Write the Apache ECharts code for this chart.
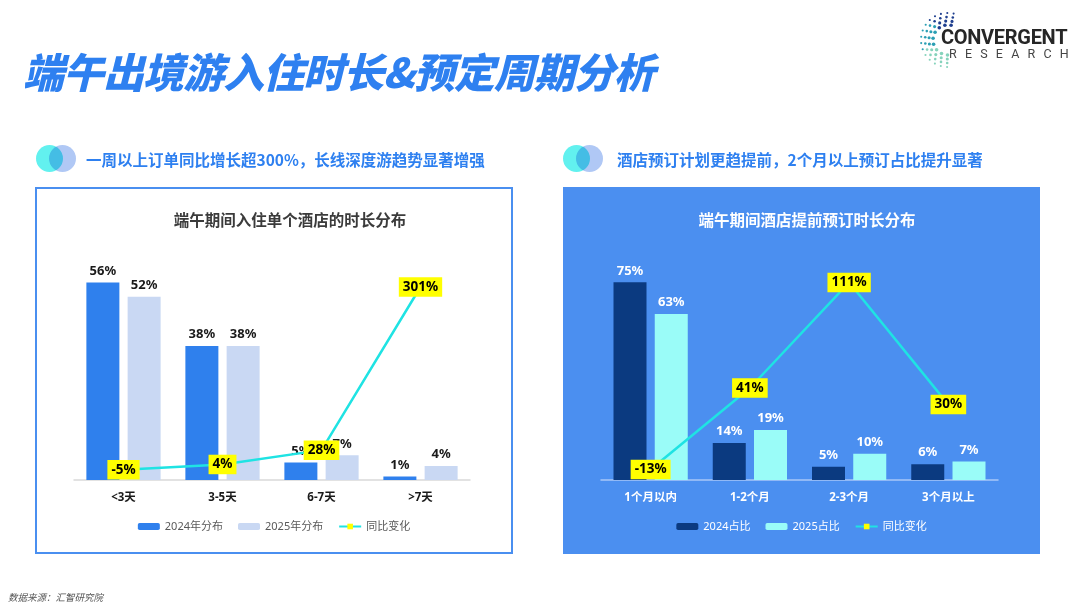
<!DOCTYPE html>
<html>
<head>
<meta charset="utf-8">
<script src="https://cdn.jsdelivr.net/npm/echarts@6/dist/echarts.min.js"></script>
<style>
  html, body { margin: 0; padding: 0; }
  body { width: 1080px; height: 608px; overflow: hidden; background: #fff; position: relative;
         font-family: 'Noto Sans', 'Noto Sans CJK SC', sans-serif; }
  .abs { position: absolute; }
  #pageTitle { left: 23px; top: 45px; font-size: 41px; line-height: 50px; font-weight: 900; font-style: italic;
               color: #2e80f0; letter-spacing: -1px; font-family: 'Noto Sans CJK SC', sans-serif; white-space: nowrap; }
  .sub { top: 148px; font-size: 15.5px; line-height: 22px; font-weight: bold; color: #2e80f0;
         font-family: 'Noto Sans CJK SC', sans-serif; white-space: nowrap; }
  .ico { width: 27px; height: 27px; border-radius: 50%; top: 145px; }
  .ico.a { background: #62f1ef; }
  .ico.b { background: #b0c8f5; mix-blend-mode: multiply; }
  #panelL { left: 35px; top: 187px; width: 478px; height: 367px; border: 2px solid #4a8ff0; box-sizing: border-box; }
  #panelR { left: 563px; top: 187px; width: 477px; height: 367px; background: #4b8ff0; }
  #chartL { left: 35px; top: 187px; width: 478px; height: 367px; }
  #chartR { left: 563px; top: 187px; width: 477px; height: 367px; }
  #note { left: 8px; top: 591px; font-size: 9.5px; line-height: 12px; font-style: italic; color: #555;
          font-family: 'Noto Sans CJK SC', sans-serif; }
  #logo1 { left: 941px; top: 27px; font-family: Roboto, sans-serif; font-weight: bold; font-size: 20px;
           line-height: 20px; color: #262626; letter-spacing: -0.3px; }
  #logo2 { left: 949px; top: 47px; font-family: Roboto, sans-serif; font-size: 12.5px; line-height: 14px;
           color: #444; letter-spacing: 8.2px; }
</style>
</head>
<body>
<div id="pageTitle" class="abs">端午出境游入住时长&amp;预定周期分析</div>

<svg id="dots" class="abs" style="left:910px;top:6px" width="50" height="64"></svg>
<div id="logo1" class="abs">CONVERGENT</div>
<div id="logo2" class="abs">RESEARCH</div>

<div class="abs ico a" style="left:36px"></div>
<div class="abs ico b" style="left:49px"></div>
<div class="abs sub" style="left:86px">一周以上订单同比增长超300%，长线深度游趋势显著增强</div>

<div class="abs ico a" style="left:563px"></div>
<div class="abs ico b" style="left:576px"></div>
<div class="abs sub" style="left:617px">酒店预订计划更趋提前，2个月以上预订占比提升显著</div>

<div id="panelL" class="abs"></div>
<div id="panelR" class="abs"></div>
<div id="chartL" class="abs"></div>
<div id="chartR" class="abs"></div>

<div id="note" class="abs">数据来源：汇智研究院</div>

<script>
// 入住单个酒店的时长分布
var durCats = ['<3天', '3-5天', '6-7天', '>7天'];
var dur2024 = [56, 38, 5, 1];
var dur2025 = [52, 38, 7, 4];
var durYoy = [-5, 4, 28, 301];

// 酒店提前预订时长分布
var leadCats = ['1个月以内', '1-2个月', '2-3个月', '3个月以上'];
var lead2024 = [75, 14, 5, 6];
var lead2025 = [63, 19, 10, 7];
var leadYoy = [-13, 41, 111, 30];

// logo 点阵 (装饰)
(function () {
    var svg = document.getElementById('dots');
    var cx = 38, cy = 34;
    var rings = [15, 19, 23, 27];
    var html = '';
    rings.forEach(function (r, ri) {
        var n = 9 + ri * 2;
        for (var i = 0; i < n; i++) {
            var deg = 78 + (190 * i) / (n - 1);
            var a = deg * Math.PI / 180;
            var x = cx + r * Math.cos(a), y = cy - r * Math.sin(a);
            var t = i / (n - 1);
            var col = t < 0.3 ? '#1f3f8f' : (t < 0.65 ? '#2b9fb4' : '#86d3bc');
            var s = 1.8 - ri * 0.25;
            html += '<circle cx="' + x.toFixed(1) + '" cy="' + y.toFixed(1) + '" r="' + s.toFixed(2) + '" fill="' + col + '"/>';
        }
    });
    svg.innerHTML = html;
})();

var FONT = "'Noto Sans', 'Noto Sans CJK SC', sans-serif";

function buildOption(c) {
    return {
        animation: false,
        textStyle: { fontFamily: FONT },
        title: {
            text: c.title,
            left: c.titleX,
            top: 22,
            textAlign: 'center',
            textStyle: { fontSize: 15.5, fontWeight: 'bold', color: c.titleColor, fontFamily: FONT }
        },
        legend: {
            data: c.names,
            left: 'center',
            top: 329,
            itemWidth: 22,
            itemHeight: 7,
            itemGap: 15,
            textStyle: { fontSize: 11, color: c.legendColor, fontFamily: FONT }
        },
        grid: { left: c.gridLeft, top: 11, width: c.gridWidth, height: 282 },
        xAxis: {
            type: 'category',
            data: c.cats,
            axisTick: { show: false },
            axisLine: { lineStyle: { color: c.axisColor, width: 1.5 } },
            axisLabel: { margin: 12, fontSize: 11.5, fontWeight: 'bold', color: c.labelColor, fontFamily: FONT }
        },
        yAxis: [
            { type: 'value', show: false, min: 0, max: c.max1, splitLine: { show: false } },
            { type: 'value', show: false, min: c.min2, max: c.max2, splitLine: { show: false } }
        ],
        series: [
            {
                name: c.names[0],
                type: 'bar',
                barWidth: 33,
                barGap: '25%',
                itemStyle: { color: c.colors[0] },
                label: { show: true, position: 'top', distance: 5, formatter: '{c}%',
                         fontSize: 13, fontWeight: 'bold', color: c.labelColor },
                data: c.a,
                z: 2
            },
            {
                name: c.names[1],
                type: 'bar',
                barWidth: 33,
                itemStyle: { color: c.colors[1] },
                label: { show: true, position: 'top', distance: 5, formatter: '{c}%',
                         fontSize: 13, fontWeight: 'bold', color: c.labelColor },
                data: c.b,
                z: 2
            },
            {
                name: c.names[2],
                type: 'line',
                yAxisIndex: 1,
                symbol: 'rect',
                symbolSize: 6,
                itemStyle: { color: '#ffff00', borderWidth: 0 },
                lineStyle: { color: '#1fe3e3', width: 2.5 },
                label: { show: true, position: 'inside', formatter: '{c}%', backgroundColor: '#ffff00',
                         padding: [3, 4, 3, 4], fontSize: 13.5, fontWeight: 'bold', color: '#000' },
                data: c.yoy,
                z: 5
            }
        ]
    };
}

var chartL = echarts.init(document.getElementById('chartL'));
chartL.setOption(buildOption({
    title: '端午期间入住单个酒店的时长分布',
    titleX: 250,
    titleColor: '#3b3b3b',
    names: ['2024年分布', '2025年分布', '同比变化'],
    legendColor: '#595959',
    labelColor: '#1a1a1a',
    axisColor: '#d9d9d9',
    colors: ['#2f80ed', '#c9d8f3'],
    gridLeft: 39, gridWidth: 396,
    max1: 80, min2: -22, max2: 450,
    cats: durCats, a: dur2024, b: dur2025, yoy: durYoy
}));

var chartR = echarts.init(document.getElementById('chartR'));
chartR.setOption(buildOption({
    title: '端午期间酒店提前预订时长分布',
    titleX: 239,
    titleColor: '#ffffff',
    names: ['2024占比', '2025占比', '同比变化'],
    legendColor: '#ffffff',
    labelColor: '#ffffff',
    axisColor: '#a9c8f7',
    colors: ['#0b3a80', '#9afcf8'],
    gridLeft: 38, gridWidth: 397,
    max1: 107, min2: -20, max2: 167,
    cats: leadCats, a: lead2024, b: lead2025, yoy: leadYoy
}));
</script>
</body>
</html>
